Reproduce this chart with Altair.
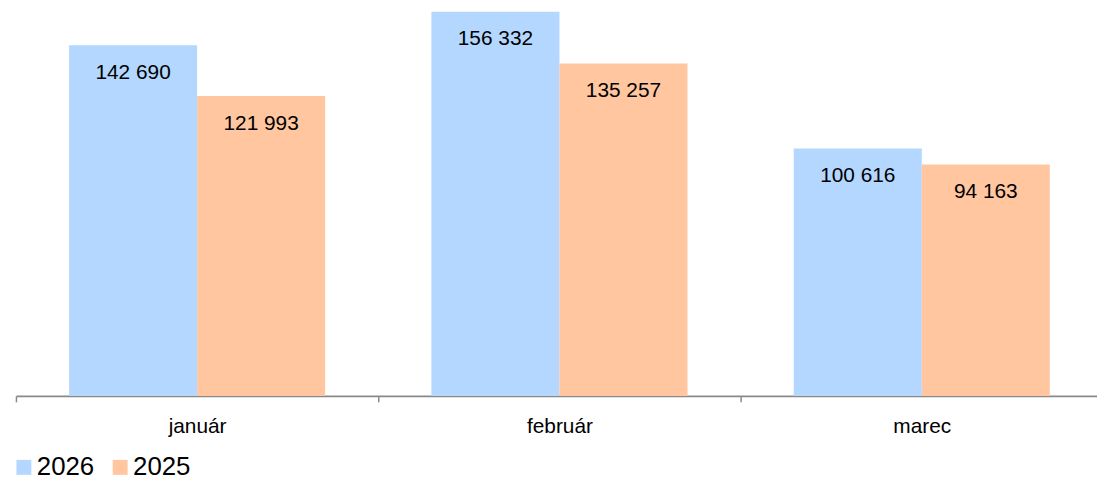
import altair as alt
import pandas as pd

months = ["január", "február", "marec"]
years = ["2026", "2025"]
values_2026 = [142690, 156332, 100616]
values_2025 = [121993, 135257, 94163]
colors = ["#b3d7ff", "#ffc6a0"]

rows = []
for i, m in enumerate(months):
    for y, vals in zip(years, [values_2026, values_2025]):
        v = vals[i]
        rows.append({"month": m, "year": y, "value": v,
                     "label": f"{v:,}".replace(",", " ")})
df = pd.DataFrame(rows)

FONT = "Liberation Sans"

base = alt.Chart(df).encode(
    x=alt.X("month:N", sort=months, title=None,
            scale=alt.Scale(paddingInner=0, paddingOuter=0, rangeMin=0, rangeMax=1095),
            axis=alt.Axis(tickOffset=-182.5, labelOffset=182.5, labelAngle=0,
                          labelFont=FONT, labelFontSize=21, labelColor="#000000",
                          labelPadding=14, tickSize=6, tickColor="#898989",
                          tickWidth=1.5, domainColor="#898989", domainWidth=2)),
    xOffset=alt.XOffset("year:N", sort=years,
                        scale=alt.Scale(paddingInner=0, paddingOuter=0.415)),
    y=alt.Y("value:Q", axis=None, scale=alt.Scale(domain=[0, 156332], nice=False)),
)

bars = base.mark_bar().encode(
    color=alt.Color("year:N", sort=years,
                    scale=alt.Scale(domain=years, range=colors),
                    legend=alt.Legend(title=None, orient="none", direction="horizontal",
                                      legendX=-5, legendY=446, padding=0,
                                      symbolType="square", symbolSize=225,
                                      symbolStrokeWidth=0, labelFont=FONT,
                                      labelFontSize=26, labelColor="#000000",
                                      labelOffset=0, columnPadding=13))
)

labels = base.mark_text(font=FONT, fontSize=21, color="#000000",
                        baseline="alphabetic", dy=34).encode(text="label:N")

chart = alt.layer(bars, labels).properties(
    width=1089, height=387,
    padding={"left": 8, "top": 2, "right": 0, "bottom": 82},
    autosize=alt.AutoSizeParams(type="none"),
).configure_view(strokeWidth=0)

chart.save("out.html", embed_options={"renderer": "svg", "actions": False})
